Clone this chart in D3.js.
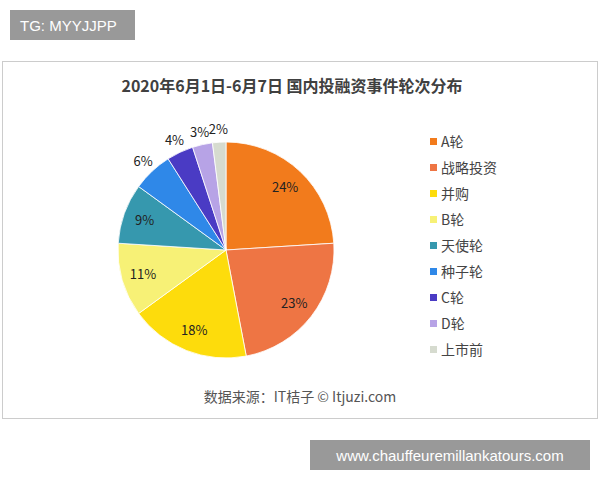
<!DOCTYPE html>
<html><head><meta charset="utf-8">
<script src="https://cdn.jsdelivr.net/npm/d3@7"></script>
<style>body{margin:0;background:#fff;font-family:"Noto Sans CJK SC",sans-serif}</style>
</head><body><svg id="c" width="600" height="480"></svg>
<script>
const categories = ['A轮', '战略投资', '并购', 'B轮', '天使轮', '种子轮', 'C轮', 'D轮', '上市前'];
const values = [24, 23, 18, 11, 9, 6, 4, 3, 2];
const colors = ['#F27B1C', '#EE7544', '#FDDC0C', '#F7F176', '#3698AE', '#2F88E8', '#4A3BC4', '#B7A3E6', '#D6DBCF'];

const svg = d3.select('#c');

// header / footer tags
svg.append('rect').attr('x', 10).attr('y', 10).attr('width', 125).attr('height', 30).attr('fill', '#999');
svg.append('text').attr('x', 20).attr('y', 31).attr('fill', '#fff').attr('font-size', 15)
  .attr('font-family', 'Liberation Sans, sans-serif').text('TG: MYYJJPP');
svg.append('rect').attr('x', 310).attr('y', 440).attr('width', 280).attr('height', 30).attr('fill', '#999');
svg.append('text').attr('x', 450).attr('y', 461).attr('text-anchor', 'middle').attr('fill', '#fff').attr('font-size', 15)
  .attr('font-family', 'Liberation Sans, sans-serif').text('www.chauffeuremillankatours.com');

// chart frame
svg.append('rect').attr('x', 2.5).attr('y', 61.5).attr('width', 595).attr('height', 357)
  .attr('fill', '#fff').attr('stroke', '#ccc');

svg.append('text').attr('x', 292).attr('y', 92).attr('text-anchor', 'middle').attr('font-size', 16)
  .attr('font-weight', 'bold').attr('fill', '#404040').text('2020年6月1日-6月7日 国内投融资事件轮次分布');

const cx = 226, cy = 250, r = 108;
const pie = d3.pie().sort(null).value(d => d)(values);
const arc = d3.arc().innerRadius(0).outerRadius(r);
const g = svg.append('g').attr('transform', `translate(${cx},${cy})`);

g.selectAll('path').data(pie).enter().append('path')
  .attr('d', arc).attr('fill', (d, i) => colors[i]).attr('stroke', '#fff').attr('stroke-width', 0.8);

const inArc = d3.arc().innerRadius(r * 0.8).outerRadius(r * 0.8);
const outArc = d3.arc().innerRadius(r * 1.12).outerRadius(r * 1.12);
g.selectAll('text.lbl').data(pie).enter().append('text')
  .attr('class', 'lbl')
  .attr('transform', (d, i) => `translate(${(i < 5 ? inArc : outArc).centroid(d)})`)
  .attr('text-anchor', 'middle').attr('dy', '0.35em')
  .attr('font-size', 13).attr('fill', '#222')
  .text(d => d.data + '%');

const leg = svg.append('g').attr('transform', 'translate(430,142)');
const row = leg.selectAll('g').data(categories).enter().append('g')
  .attr('transform', (d, i) => `translate(0,${i * 26})`);
row.append('rect').attr('x', 0).attr('y', -4).attr('width', 7).attr('height', 7).attr('fill', (d, i) => colors[i]);
row.append('text').attr('x', 11).attr('y', 0).attr('dy', '0.35em').attr('font-size', 14).attr('fill', '#444').text(d => d);

svg.append('text').attr('x', 300).attr('y', 402).attr('text-anchor', 'middle').attr('font-size', 14)
  .attr('fill', '#555').text('数据来源：IT桔子 © Itjuzi.com');
</script></body></html>
